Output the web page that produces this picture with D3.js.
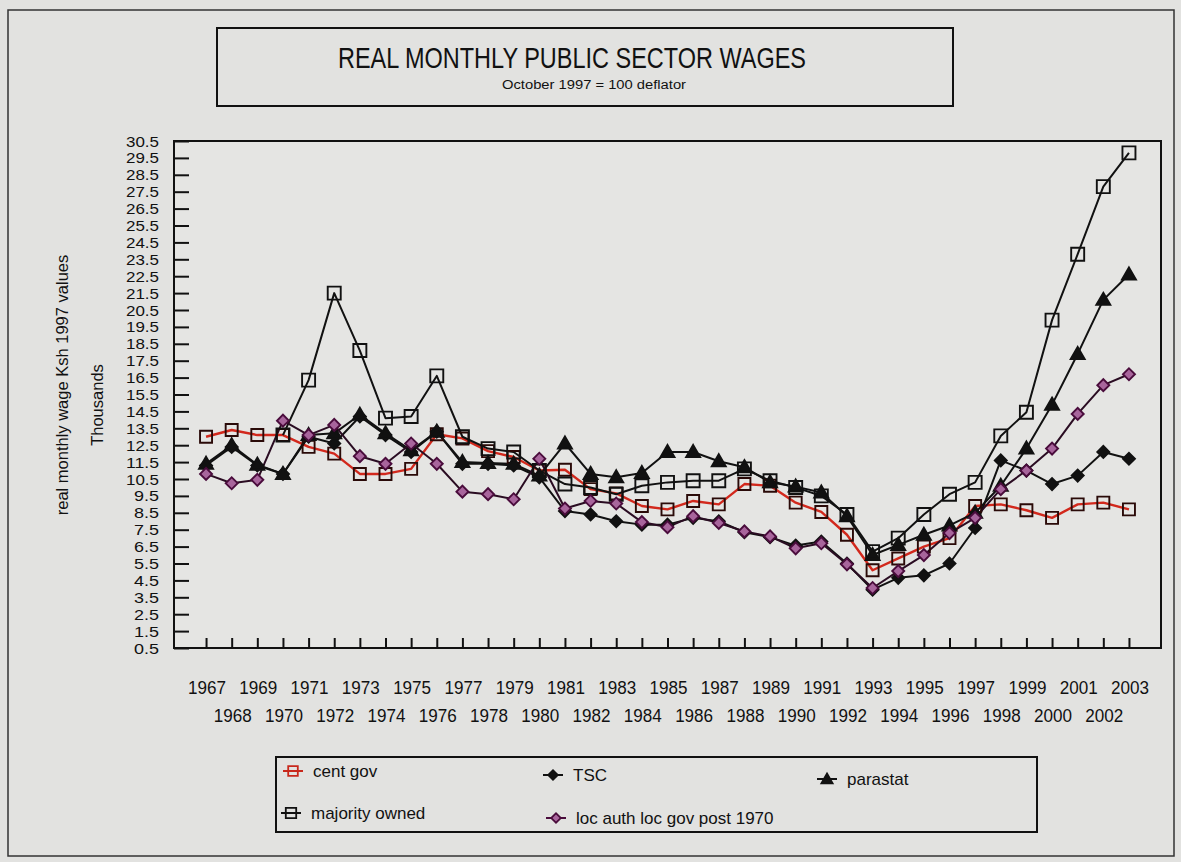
<!DOCTYPE html>
<html>
<head>
<meta charset="utf-8">
<script src="https://cdn.jsdelivr.net/npm/d3@7"></script>
<style>
  html, body { margin: 0; padding: 0; background: #e2e2e0; }
  svg { display: block; }
</style>
</head>
<body>
<svg id="chart" width="1181" height="862"></svg>
<script>
// Years on the category axis
const years = [1967,1968,1969,1970,1971,1972,1973,1974,1975,1976,1977,1978,1979,1980,
  1981,1982,1983,1984,1985,1986,1987,1988,1989,1990,1991,1992,1993,1994,1995,1996,
  1997,1998,1999,2000,2001,2002,2003];

// Real monthly wages, Ksh thousands (1997 values)
const centGov = [13.0,13.4,13.1,13.1,12.4,12.0,10.8,10.8,11.1,13.15,12.9,12.15,11.8,11.0,
  11.05,9.9,9.65,8.9,8.7,9.2,9.0,10.2,10.1,9.1,8.55,7.2,5.1,5.8,6.5,7.0,
  8.9,9.0,8.65,8.2,9.0,9.1,8.7];
const tsc = [11.3,12.4,11.3,10.8,13.0,12.6,14.2,13.1,12.1,13.3,11.4,11.4,11.3,10.6,
  8.6,8.4,8.0,7.8,7.8,8.2,8.0,7.35,7.06,6.56,6.8,5.5,3.95,4.65,4.8,5.5,
  7.6,11.6,11.0,10.2,10.7,12.1,11.7];
const parastat = [11.4,12.5,11.35,10.8,13.1,13.2,14.3,13.2,12.2,13.3,11.5,11.45,11.4,10.7,
  12.6,10.8,10.6,10.85,12.1,12.1,11.55,11.2,10.3,10.05,9.7,8.3,6.0,6.6,7.2,7.75,
  8.5,10.1,12.3,14.9,17.9,21.1,22.6];
const majorityOwned = [null,null,null,13.1,16.35,21.5,18.1,14.1,14.2,16.6,13.0,12.3,12.1,11.0,
  10.2,10.0,9.6,10.1,10.3,10.4,10.4,11.1,10.4,10.0,9.5,8.4,6.2,7.0,8.4,9.6,
  10.3,13.05,14.45,19.9,23.8,27.8,29.8];
const locAuth = [10.8,10.25,10.45,13.95,13.1,13.7,11.85,11.4,12.6,11.4,9.75,9.6,9.3,11.7,
  8.75,9.2,9.05,7.95,7.65,8.3,7.9,7.4,7.1,6.4,6.7,5.45,4.05,5.05,6.0,7.3,
  8.2,9.9,11.0,12.3,14.35,16.05,16.7];

// Value-axis tick labels
const yTicks = [0.5,1.5,2.5,3.5,4.5,5.5,6.5,7.5,8.5,9.5,10.5,11.5,12.5,13.5,14.5,15.5,
  16.5,17.5,18.5,19.5,20.5,21.5,22.5,23.5,24.5,25.5,26.5,27.5,28.5,29.5,30.5];

const titleText = "REAL MONTHLY PUBLIC SECTOR WAGES";
const subtitleText = "October 1997 = 100 deflator";
const yTitle = "real monthly wage Ksh 1997 values";
const yUnit = "Thousands";

const FONT = "'Liberation Sans Narrow','Arial Narrow','Liberation Sans',Arial,sans-serif";
const BG = "#e2e2e0";

const series = [
  { name: "cent gov", values: centGov, line: "#d2281c", lw: 2.4, shape: "square",
    stroke: "#2a0a08", fill: "none", size: 12 },
  { name: "TSC", values: tsc, line: "#111", lw: 2, shape: "diamond",
    stroke: "#111", fill: "#111", size: 12 },
  { name: "parastat", values: parastat, line: "#111", lw: 2, shape: "triangle",
    stroke: "#111", fill: "#111", size: 14 },
  { name: "majority owned", values: majorityOwned, line: "#111", lw: 2, shape: "square",
    stroke: "#111", fill: "none", size: 13 },
  { name: "loc auth loc gov post 1970", values: locAuth, line: "#2a0c22", lw: 2, shape: "diamond",
    stroke: "#4a0c3c", fill: "#a8659c", size: 12 }
];

const svg = d3.select("#chart");

// page background and outer frame
svg.append("rect").attr("x", 0).attr("y", 0).attr("width", 1181).attr("height", 862).attr("fill", BG);
svg.append("rect").attr("x", 8).attr("y", 10).attr("width", 1166).attr("height", 846)
  .attr("fill", "none").attr("stroke", "#333").attr("stroke-width", 1.5);

// title box
svg.append("rect").attr("x", 217).attr("y", 28).attr("width", 736).attr("height", 78)
  .attr("fill", BG).attr("stroke", "#111").attr("stroke-width", 2);
svg.append("text").attr("x", 572).attr("y", 68).attr("text-anchor", "middle")
  .attr("font-family", FONT).attr("font-size", 29).attr("fill", "#111")
  .attr("textLength", 468).attr("lengthAdjust", "spacingAndGlyphs")
  .text(titleText);
svg.append("text").attr("x", 594).attr("y", 89).attr("text-anchor", "middle")
  .attr("font-family", FONT).attr("font-size", 12).attr("fill", "#111")
  .attr("textLength", 184).attr("lengthAdjust", "spacingAndGlyphs")
  .text(subtitleText);

// plot area
const plot = { left: 174, right: 1161, top: 141, bottom: 648 };
const x = d3.scalePoint().domain(years).range([plot.left, plot.right]).padding(1.25);
const y = d3.scaleLinear().domain([0.5, 30.5]).range([plot.bottom, plot.top]);

svg.append("rect").attr("x", plot.left).attr("y", plot.top)
  .attr("width", plot.right - plot.left).attr("height", plot.bottom - plot.top)
  .attr("fill", "#e5e5e3").attr("stroke", "#111").attr("stroke-width", 2);

// y axis: inward ticks, labels on the left
const yAxis = svg.append("g").attr("transform", `translate(${plot.left},0)`)
  .call(d3.axisRight(y).tickValues(yTicks).tickSize(15).tickFormat(""));
yAxis.select(".domain").remove();
yAxis.selectAll("line").attr("stroke", "#111").attr("stroke-width", 2);
svg.append("g").selectAll("text").data(yTicks).join("text")
  .attr("x", 159).attr("y", d => y(d) + 5.5).attr("text-anchor", "end")
  .attr("font-family", "'Liberation Sans',Arial,sans-serif").attr("font-size", 14.6).attr("fill", "#111")
  .attr("textLength", d => d >= 10 ? 33 : 25).attr("lengthAdjust", "spacingAndGlyphs")
  .text(d => d3.format(".1f")(d));

// x axis: inward ticks, labels in two staggered rows
const xAxis = svg.append("g").attr("transform", `translate(0,${plot.bottom})`)
  .call(d3.axisTop(x).tickSize(10).tickFormat(""));
xAxis.select(".domain").remove();
xAxis.selectAll("line").attr("stroke", "#111").attr("stroke-width", 2);
svg.append("g").selectAll("text").data(years).join("text")
  .attr("x", d => x(d) + 1)
  .attr("y", (d, i) => i % 2 === 0 ? 694 : 722)
  .attr("text-anchor", "middle")
  .attr("font-family", FONT).attr("font-size", 17.5).attr("fill", "#111")
  .attr("textLength", 38).attr("lengthAdjust", "spacingAndGlyphs")
  .text(d => d);

// axis titles
svg.append("text").attr("transform", "translate(68,385) rotate(-90)")
  .attr("text-anchor", "middle").attr("font-family", "'Liberation Sans',Arial,sans-serif")
  .attr("font-size", 16.5).attr("fill", "#111").text(yTitle);
svg.append("text").attr("transform", "translate(103,405) rotate(-90)")
  .attr("text-anchor", "middle").attr("font-family", "'Liberation Sans',Arial,sans-serif")
  .attr("font-size", 16.5).attr("fill", "#111").text(yUnit);

// marker path generator
function markerPath(shape, size) {
  if (shape === "square") return d3.symbol(d3.symbolSquare, size * size)();
  if (shape === "diamond") return d3.symbol(d3.symbolSquare, (size * size) / 2)();
  return d3.symbol(d3.symbolTriangle, size * size * Math.sqrt(3) / 4)();
}
function markerTransform(shape, px, py) {
  if (shape === "diamond") return `translate(${px},${py}) rotate(45)`;
  if (shape === "triangle") return `translate(${px},${py + 1})`;
  return `translate(${px},${py})`;
}

const line = d3.line()
  .defined(d => d.v !== null)
  .x(d => x(d.year))
  .y(d => y(d.v));

const lines = svg.append("g");
const marks = svg.append("g");
series.forEach(s => {
  const pts = years.map((yr, i) => ({ year: yr, v: s.values[i] }));
  lines.append("path").datum(pts)
    .attr("fill", "none").attr("stroke", s.line).attr("stroke-width", s.lw)
    .attr("stroke-linejoin", "round").attr("d", line);
  marks.append("g").selectAll("path").data(pts.filter(p => p.v !== null)).join("path")
    .attr("d", markerPath(s.shape, s.size))
    .attr("transform", p => markerTransform(s.shape, x(p.year), y(p.v)))
    .attr("fill", s.fill === "none" ? "none" : s.fill)
    .attr("stroke", s.stroke).attr("stroke-width", 1.9);
});

// legend
svg.append("rect").attr("x", 276).attr("y", 757).attr("width", 761).attr("height", 75)
  .attr("fill", BG).attr("stroke", "#111").attr("stroke-width", 2);
const legendPos = [
  { mx: 293, my: 771 },
  { mx: 553, my: 775 },
  { mx: 827, my: 779 },
  { mx: 291, my: 813 },
  { mx: 556, my: 818 }
];
const legendColors = ["#c8281c", "#111", "#111", "#111", "#4a0c3c"];
series.forEach((s, i) => {
  const p = legendPos[i];
  const g = svg.append("g");
  g.append("line").attr("x1", p.mx - 10).attr("x2", p.mx + 10).attr("y1", p.my).attr("y2", p.my)
    .attr("stroke", legendColors[i]).attr("stroke-width", 2);
  g.append("path").attr("d", markerPath(s.shape, s.size * 0.8))
    .attr("transform", markerTransform(s.shape, p.mx, p.my))
    .attr("fill", s.fill === "none" ? "none" : s.fill)
    .attr("stroke", i === 0 ? "#c8281c" : s.stroke).attr("stroke-width", 1.8);
  g.append("text").attr("x", p.mx + 20).attr("y", p.my + 6)
    .attr("font-family", FONT).attr("font-size", 17).attr("fill", "#111").text(s.name);
});
</script>
</body>
</html>
